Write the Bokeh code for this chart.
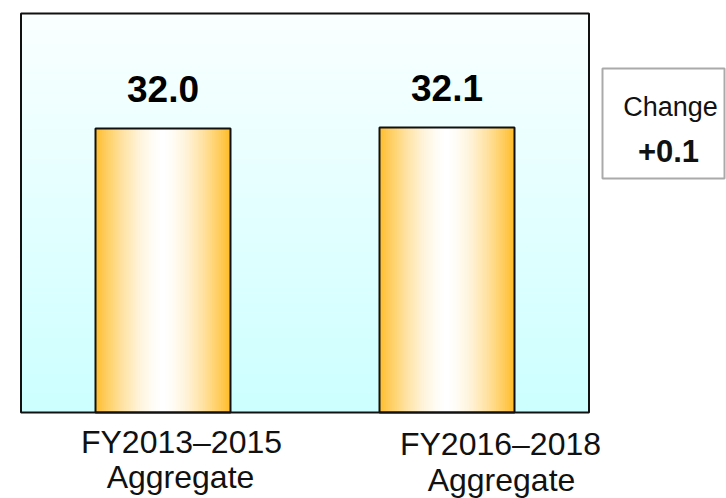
import numpy as np
from bokeh.plotting import figure
from bokeh.core.properties import value
from bokeh.embed import file_html
from bokeh.resources import INLINE

# ---- data ----
line1 = ["FY2013–2015", "FY2016–2018"]
line2 = ["Aggregate", "Aggregate"]
values = [32.0, 32.1]
change_title = "Change"
change = values[1] - values[0]

W, H = 726, 498
# layout mapping (pixel -> data) ; bars at x=0,1, value 0 at pixel 412
PX_PER_X = 284.0
X0_PX = 162.5
Y0_PX = 412.0
PX_PER_Y = 284.0 / 32.0

def X(px):
    return (px - X0_PX) / PX_PER_X

def Y(py):
    return (Y0_PX - py) / PX_PER_Y

p = figure(width=W, height=H, output_backend="svg", toolbar_location=None,
           x_range=(X(0), X(W)), y_range=(Y(H), Y(0)), min_border=0)
p.axis.visible = False
p.grid.visible = False
p.outline_line_color = None
p.background_fill_color = "white"
p.border_fill_color = "white"

# plot area background gradient (white -> light cyan)
fx0, fx1, fy0, fy1 = -0.5, 1.5, 0.0, Y(13)
n = 80
edges = np.linspace(fy0, fy1, n + 1)
cols = []
for i in range(n):
    t = (i + 0.5) / n  # 0 bottom, 1 top
    r = int(round(204 + (250 - 204) * t))
    cols.append("#%02x%02x%02x" % (r, 255, 255))
p.quad(left=fx0, right=fx1, bottom=edges[:-1], top=edges[1:], fill_color=cols,
       line_color=cols, line_width=1)

# bars with horizontal gradient
xs = np.arange(len(values), dtype=float)
bw = 135 / PX_PER_X
ns = 60
lefts, rights, tops, bcols = [], [], [], []
edge = np.array([255, 188, 40])
white = np.array([255, 255, 255])
for xi, v in zip(xs, values):
    e = np.linspace(xi - bw / 2, xi + bw / 2, ns + 1)
    for i in range(ns):
        t = abs(2 * (i + 0.5) / ns - 1)
        t = t ** 1.6
        c = white + (edge - white) * t
        lefts.append(e[i]); rights.append(e[i + 1]); tops.append(v)
        bcols.append("#%02x%02x%02x" % tuple(int(round(k)) for k in c))
p.quad(left=lefts, right=rights, bottom=0, top=tops, fill_color=bcols,
       line_color=bcols, line_width=1)
p.vbar(x=xs, width=bw, top=values, bottom=0, fill_color=None, line_color="#111111", line_width=2)

# frame
p.quad(left=[fx0], right=[fx1], bottom=[fy0], top=[fy1], fill_color=None,
       line_color="#111111", line_width=2)

# value labels
p.text(x=xs, y=[v + 40 / PX_PER_Y for v in values], text=["%.1f" % v for v in values],
       text_align="center", text_baseline="alphabetic", text_font=value("Liberation Sans"),
       text_font_size="37px", text_font_style="bold", text_color="black")

# category labels
p.text(x=[X(181), X(500)], y=[Y(441), Y(443)], text=line1, text_align="center",
       text_baseline="alphabetic", text_font=value("Liberation Sans"),
       text_font_size="32px", text_color="#111111")
p.text(x=[X(180), X(501)], y=[Y(476), Y(479)], text=line2, text_align="center",
       text_baseline="alphabetic", text_font=value("Liberation Sans"),
       text_font_size="32px", text_color="#111111")

# change box
p.quad(left=[X(602)], right=[X(724)], bottom=[Y(178)], top=[Y(68)], fill_color="white",
       line_color="#aaaaaa", line_width=2)
p.text(x=[X(670)], y=[Y(106)], text=[change_title], text_align="center",
       text_baseline="alphabetic", text_font=value("Liberation Sans"),
       text_font_size="27px", text_color="#111111")
p.text(x=[X(668)], y=[Y(150)], text=["%+.1f" % change], text_align="center",
       text_baseline="alphabetic", text_font=value("Liberation Sans"),
       text_font_size="31px", text_font_style="bold", text_color="#111111")

open("out.html", "w").write(file_html(p, INLINE))
